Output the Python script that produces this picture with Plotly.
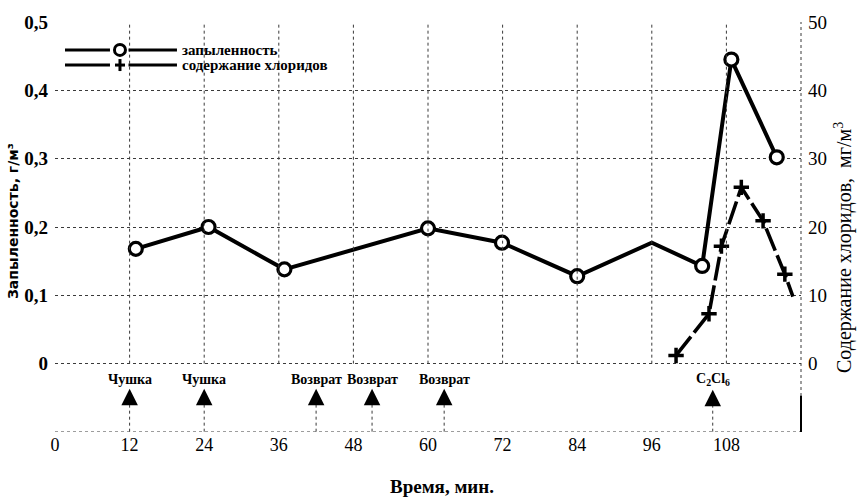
import plotly.graph_objects as go

# ---- data ----
time_dust = [13, 24.7, 36.9, 60, 71.9, 84, 96, 104.1, 108.8, 116.1]
dust = [0.168, 0.200, 0.138, 0.198, 0.177, 0.128, 0.177, 0.143, 0.445, 0.302]
dust_has_marker = [1, 1, 1, 1, 1, 1, 0, 1, 1, 1]

time_cl = [99.9, 105.2, 107.2, 110.4, 113.9, 117.4, 118.7]
chlorides = [1.2, 7.3, 17.2, 25.8, 20.9, 13.1, 9.8]
cl_has_marker = [1, 1, 1, 1, 1, 1, 0]

x_ticks = [0, 12, 24, 36, 48, 60, 72, 84, 96, 108]
left_ticks = [0, 0.1, 0.2, 0.3, 0.4, 0.5]
left_labels = ["0", "0,1", "0,2", "0,3", "0,4", "0,5"]
right_ticks = [0, 10, 20, 30, 40, 50]

events = ["Чушка", "Чушка", "Возврат", "Возврат", "Возврат", "C<sub>2</sub>Cl<sub>6</sub>"]
event_times = [12, 24, 42, 51, 62.6, 105.8]

series_names = ["запыленность", "содержание хлоридов"]

SERIF = "Liberation Serif"
GRID = "#3a3a3a"

fig = go.Figure()
fig.add_trace(go.Scatter(
    x=time_dust, y=dust, mode="lines+markers", name=series_names[0], showlegend=False,
    line=dict(color="black", width=4),
    marker=dict(symbol="circle", size=[13 * m for m in dust_has_marker], color="white",
                opacity=1, line=dict(color="black", width=3.2)),
    yaxis="y"))
fig.add_trace(go.Scatter(
    x=time_cl, y=chlorides, mode="lines+markers", name=series_names[1], showlegend=False,
    line=dict(color="black", width=3.6, dash="24px,5px"),
    marker=dict(symbol="cross-thin", size=[11 * m for m in cl_has_marker], color="black",
                opacity=1, line=dict(color="black", width=3.5)),
    yaxis="y2"))

shapes = []
for xv in x_ticks[1:]:
    shapes.append(dict(type="line", xref="x", yref="y", x0=xv, x1=xv, y0=0, y1=0.5,
                       line=dict(color=GRID, width=1, dash="dot")))
shapes.append(dict(type="line", xref="paper", yref="y", x0=0, x1=1, y0=-0.1, y1=-0.1,
                   line=dict(color=GRID, width=1, dash="dot")))
shapes.append(dict(type="line", xref="paper", yref="y", x0=1, x1=1, y0=-0.1, y1=0.5,
                   line=dict(color=GRID, width=1, dash="dot")))
shapes.append(dict(type="line", xref="paper", yref="y", x0=1, x1=1, y0=-0.1, y1=-0.047,
                   line=dict(color="black", width=2)))

annotations = []
for name, t in zip(events, event_times):
    # label with an upward arrow under it
    annotations.append(dict(x=t, y=-0.06, xref="x", yref="y", text="<b>" + name + "</b>",
                            showarrow=True, ax=0, ay=-25, arrowside="start",
                            startarrowhead=2, startarrowsize=1.1, arrowwidth=3,
                            arrowcolor="black", startstandoff=0,
                            font=dict(family=SERIF, size=14, color="black")))
    shapes.append(dict(type="line", xref="x", yref="y", x0=t, x1=t, y0=-0.06, y1=-0.1,
                       line=dict(color=GRID, width=1, dash="dot")))

# legend drawn in the style of the original (long lines either side of the symbol)
leg_rows = [0.932, 0.895]
for i, (name, yrow) in enumerate(zip(series_names, leg_rows)):
    shapes.append(dict(type="line", xref="paper", yref="paper", x0=0.0134, x1=0.0737,
                       y0=yrow, y1=yrow, line=dict(color="black", width=3)))
    shapes.append(dict(type="line", xref="paper", yref="paper", x0=0.0985, x1=0.1635,
                       y0=yrow, y1=yrow, line=dict(color="black", width=3)))
    if i == 0:
        shapes.append(dict(type="circle", xref="paper", yref="paper", xsizemode="pixel",
                           ysizemode="pixel", xanchor=0.0871, yanchor=yrow,
                           x0=-5.5, x1=5.5, y0=-5.5, y1=5.5, fillcolor="white",
                           line=dict(color="black", width=3)))
    else:
        shapes.append(dict(type="line", xref="paper", yref="paper", xsizemode="pixel",
                           ysizemode="pixel", xanchor=0.0871, yanchor=yrow,
                           x0=-5, x1=5, y0=0, y1=0, line=dict(color="black", width=3)))
        shapes.append(dict(type="line", xref="paper", yref="paper", xsizemode="pixel",
                           ysizemode="pixel", xanchor=0.0871, yanchor=yrow,
                           x0=0, x1=0, y0=-6, y1=6, line=dict(color="black", width=3)))
    annotations.append(dict(x=0.1676, y=yrow, xref="paper", yref="paper", xanchor="left",
                            yanchor="middle", text="<b>" + name + "</b>", showarrow=False,
                            font=dict(family=SERIF, size=15, color="black")))

annotations.append(dict(x=-0.056, y=0.515, xref="paper", yref="paper", textangle=-90,
                        xanchor="center", yanchor="middle",
                        text="<b>Запыленность, г/м³</b>", showarrow=False,
                        font=dict(family="DejaVu Sans", size=14, color="black")))
annotations.append(dict(x=1.057, y=0.45, xref="paper", yref="paper", textangle=-90,
                        xanchor="center", yanchor="middle",
                        text="Содержание хлоридов,  мг/м<sup>3</sup>", showarrow=False,
                        font=dict(family=SERIF, size=20, color="black")))
annotations.append(dict(x=0.519, y=-0.134, xref="paper", yref="paper",
                        xanchor="center", yanchor="middle",
                        text="<b>Время, мин.</b>", showarrow=False,
                        font=dict(family=SERIF, size=19, color="black")))

fig.update_layout(
    width=858, height=501,
    margin=dict(l=55, r=57, t=20, b=69),
    plot_bgcolor="white", paper_bgcolor="white",
    showlegend=False,
    xaxis=dict(range=[0, 120], tickvals=x_ticks, ticktext=[str(v) for v in x_ticks],
               showgrid=False, zeroline=False, showline=False, ticks="",
               tickfont=dict(family=SERIF, size=18, color="black")),
    yaxis=dict(range=[-0.1, 0.5], tickvals=left_ticks, ticktext=left_labels,
               showgrid=True, gridcolor=GRID, gridwidth=1, griddash="dot",
               zeroline=False, showline=False, ticks="", ticklabelstandoff=6,
               tickfont=dict(family=SERIF, size=19, color="black", weight="bold")),
    yaxis2=dict(range=[-10, 50], tickvals=right_ticks, overlaying="y", side="right",
                showgrid=False, zeroline=False, showline=False, ticks="",
                ticklabelstandoff=6,
                tickfont=dict(family=SERIF, size=19, color="black")),
    shapes=shapes, annotations=annotations,
)

fig.write_html("out.html", config={"displayModeBar": False},
               post_script="document.body.style.margin='0';")
